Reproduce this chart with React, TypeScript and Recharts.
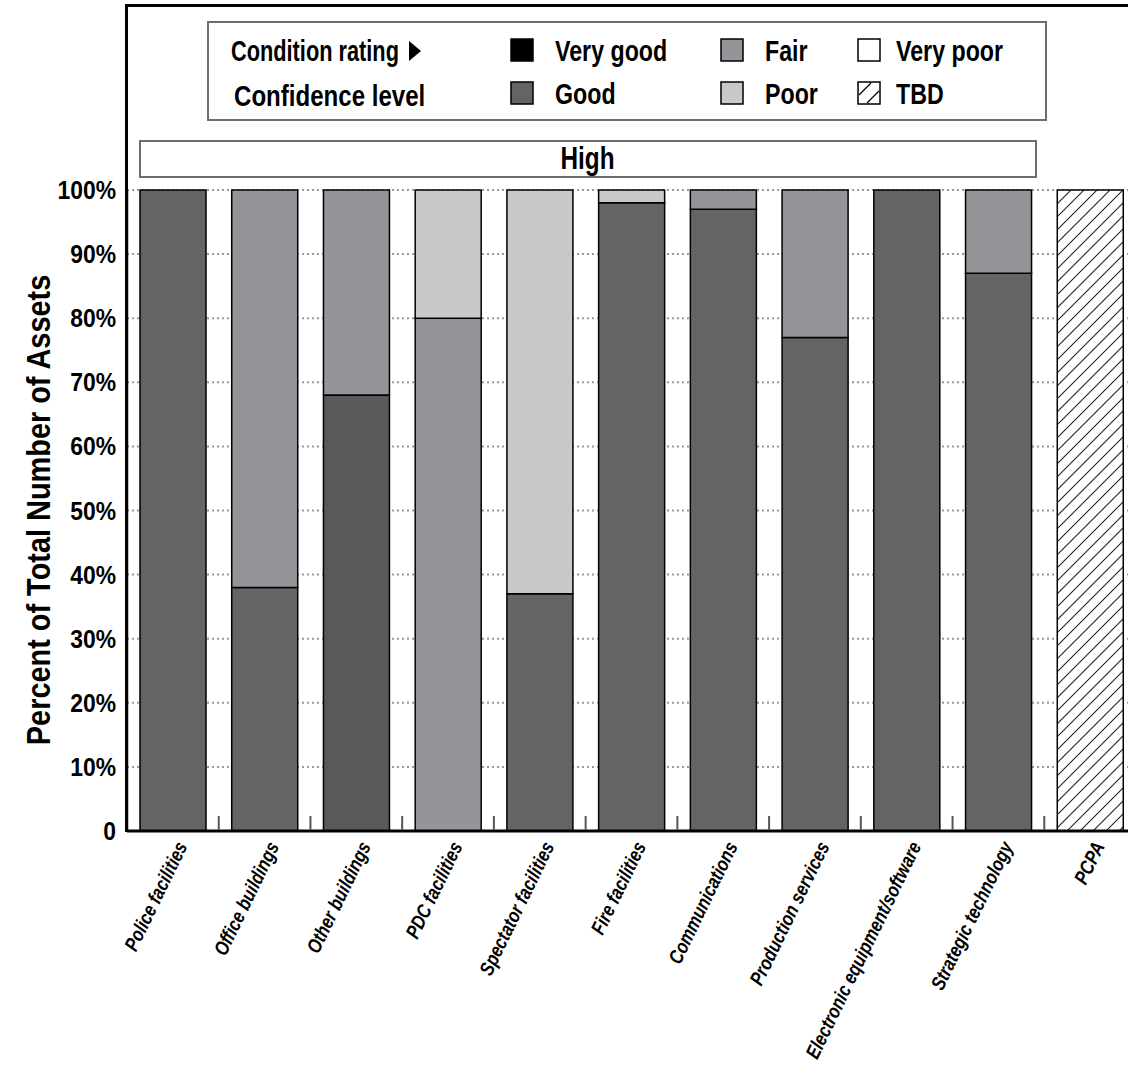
import React from 'react';
import { BarChart, Bar, XAxis, YAxis, CartesianGrid, Legend, Cell } from 'recharts';

const categories = [
  'Police facilities',
  'Office buildings',
  'Other buildings',
  'PDC facilities',
  'Spectator facilities',
  'Fire facilities',
  'Communications',
  'Production services',
  'Electronic equipment/software',
  'Strategic technology',
  'PCPA',
];

const veryGood = [0, 0, 0, 0, 0, 0, 0, 0, 0, 0, 0];
const good = [100, 38, 68, 0, 37, 98, 97, 77, 100, 87, 0];
const fair = [0, 62, 32, 80, 0, 0, 3, 23, 0, 13, 0];
const poor = [0, 0, 0, 20, 63, 2, 0, 0, 0, 0, 0];
const veryPoor = [0, 0, 0, 0, 0, 0, 0, 0, 0, 0, 0];
const tbd = [0, 0, 0, 0, 0, 0, 0, 0, 0, 0, 100];

const yTicks = [0, 10, 20, 30, 40, 50, 60, 70, 80, 90, 100];

const legendTitle = 'Condition rating';
const legendSubtitle = 'Confidence level';
const bandLabel = 'High';
const yTitle = 'Percent of Total Number of Assets';

// no condensed face installed, so text is squeezed horizontally
const FONT = "'Liberation Sans', Arimo, Arial, sans-serif";
const SQUEEZE = 0.82;

const series = [
  { key: 'veryGood', name: 'Very good', fill: '#000000' },
  { key: 'good', name: 'Good', fill: '#636466' },
  { key: 'fair', name: 'Fair', fill: '#939598' },
  { key: 'poor', name: 'Poor', fill: '#c7c8ca' },
  { key: 'veryPoor', name: 'Very poor', fill: '#ffffff' },
  { key: 'tbd', name: 'TBD', fill: 'url(#hatch)' },
];

const data = categories.map((name, i) => ({
  name,
  veryGood: veryGood[i],
  good: good[i],
  fair: fair[i],
  poor: poor[i],
  veryPoor: veryPoor[i],
  tbd: tbd[i],
}));

const CategoryTick = (props: any) => {
  const { x, y, payload, index } = props;
  const half = payload && payload.offset ? payload.offset : 45.85;
  return (
    <g>
      {index > 0 && (
        <line x1={x - half} x2={x - half} y1={y - 1} y2={y - 15} stroke="#555" strokeWidth={2} />
      )}
      <text
        transform={`translate(${x + 15},${y + 15}) rotate(-64) scale(${SQUEEZE},1)`}
        textAnchor="end"
        fontFamily={FONT}
        fontSize={20}
        fontWeight={700}
        fontStyle="italic"
        fill="#000"
      >
        {payload.value}
      </text>
    </g>
  );
};

const ValueTick = (props: any) => {
  const { x, y, payload } = props;
  return (
    <text
      transform={`translate(${x},${y}) scale(0.88,1)`}
      textAnchor="end"
      dominantBaseline="central"
      fontFamily={FONT}
      fontSize={26}
      fontWeight={700}
      fill="#000"
    >
      {payload.value === 0 ? '0' : `${payload.value}%`}
    </text>
  );
};

const Swatch = ({ fill }: { fill: string }) => (
  <svg width={24} height={24} style={{ position: 'absolute', left: 0, top: 0 }}>
    <rect x={1} y={1} width={22} height={22} fill={fill === 'url(#hatch)' ? '#fff' : fill} stroke="#000" strokeWidth={1.5} />
    {fill === 'url(#hatch)' && (
      <g stroke="#000" strokeWidth={1.2}>
        <line x1={2} y1={14} x2={14} y2={2} />
        <line x1={10} y1={22} x2={22} y2={10} />
      </g>
    )}
  </svg>
);

const squeezed = (k: number): React.CSSProperties => ({
  display: 'inline-block',
  transform: `scaleX(${k})`,
  transformOrigin: 'left center',
  whiteSpace: 'nowrap',
});

const legendCols = [301, 511, 648];
const legendTextGap = [45, 45, 39];
const legendRows = [15, 58];

const renderLegend = () => (
  <div
    style={{
      position: 'relative',
      width: 840,
      height: 100,
      boxSizing: 'border-box',
      border: '2.5px solid #6d6e70',
      background: '#fff',
      fontFamily: FONT,
      fontWeight: 700,
      fontSize: 29,
      color: '#000',
      lineHeight: '28px',
    }}
  >
    <div style={{ position: 'absolute', left: 22, top: legendRows[0] - 1, whiteSpace: 'nowrap' }}>
      <span style={squeezed(0.75)}>{legendTitle}</span>
      <svg width={13} height={20} style={{ position: 'absolute', left: 178, top: 4 }}>
        <polygon points="0,0 12,10 0,20" fill="#000" />
      </svg>
    </div>
    <div style={{ position: 'absolute', left: 25, top: legendRows[1] + 1 }}>
      <span style={squeezed(0.83)}>{legendSubtitle}</span>
    </div>
    {series.map((s, i) => {
      const col = Math.floor(i / 2);
      const row = i % 2;
      return (
        <div
          key={s.key}
          style={{ position: 'absolute', left: legendCols[col], top: legendRows[row], height: 28, whiteSpace: 'nowrap' }}
        >
          <Swatch fill={s.fill} />
          <span style={{ position: 'absolute', left: legendTextGap[col], top: -1, ...squeezed(0.8) }}>{s.name}</span>
        </div>
      );
    })}
  </div>
);

const YLabel = () => (
  <text
    transform={`translate(38,510) rotate(-90) scale(0.85,1)`}
    textAnchor="middle"
    dominantBaseline="central"
    fontFamily={FONT}
    fontSize={34}
    fontWeight={700}
    fill="#000"
  >
    {yTitle}
  </text>
);

export default function App() {
  return (
    <div style={{ position: 'absolute', left: 0, top: 0, width: 1128, height: 1074, overflow: 'hidden', background: '#fff' }}>
      <BarChart
        width={1136}
        height={1074}
        data={data}
        margin={{ top: 190, right: 0, bottom: 0, left: 0 }}
        barSize={66}
        style={{ position: 'absolute', left: 0, top: 0 }}
      >
        <defs>
          <pattern id="hatch" patternUnits="userSpaceOnUse" width={13} height={13}>
            <rect width={13} height={13} fill="#fff" />
            <path d="M-1,1 l2,-2 M0,13 l13,-13 M12,14 l2,-2" stroke="#222" strokeWidth={1.1} />
          </pattern>
        </defs>
        <CartesianGrid vertical={false} stroke="#9a9a9a" strokeDasharray="2 3" strokeWidth={2} />
        <XAxis
          dataKey="name"
          interval={0}
          height={243}
          tickLine={false}
          tickSize={0}
          tickMargin={0}
          axisLine={{ stroke: '#000', strokeWidth: 3 }}
          tick={<CategoryTick />}
        />
        <YAxis
          width={127}
          domain={[0, 100]}
          ticks={yTicks}
          tickLine={false}
          tickMargin={5}
          axisLine={{ stroke: '#000', strokeWidth: 2.5 }}
          tick={<ValueTick />}
          label={<YLabel />}
        />
        <Legend
          layout="horizontal"
          verticalAlign="middle"
          align="center"
          wrapperStyle={{ top: 21, left: 207, width: 840, height: 100 }}
          content={renderLegend}
        />
        {series.map((s) => (
          <Bar
            key={s.key}
            dataKey={s.key}
            name={s.name}
            stackId="a"
            fill={s.fill}
            stroke="#000"
            strokeWidth={1.5}
            isAnimationActive={false}
          >
            {s.key === 'good' &&
              data.map((d, i) => <Cell key={d.name} fill={i === 2 ? '#58595b' : s.fill} />)}
          </Bar>
        ))}
      </BarChart>
      <div
        style={{
          position: 'absolute',
          left: 139,
          top: 140,
          width: 898,
          height: 38,
          boxSizing: 'border-box',
          border: '2.5px solid #6d6e70',
          background: '#fff',
          fontFamily: FONT,
          fontWeight: 700,
          fontSize: 32,
          lineHeight: '33px',
          textAlign: 'center',
          color: '#000',
          zIndex: 2,
        }}
      >
        <span style={{ display: 'inline-block', transform: 'scaleX(0.76)' }}>{bandLabel}</span>
      </div>
      <div
        style={{
          position: 'absolute',
          left: 125,
          top: 4,
          width: 1100,
          height: 828,
          boxSizing: 'border-box',
          borderTop: '3px solid #000',
          borderLeft: '3px solid #000',
          pointerEvents: 'none',
          zIndex: 3,
        }}
      />
    </div>
  );
}
